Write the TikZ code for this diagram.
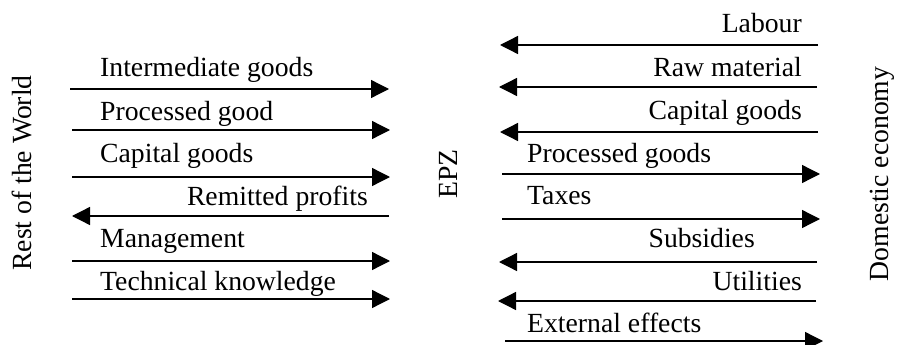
\documentclass[tikz,border=0pt]{standalone}
\usepackage{fontspec}
\setmainfont{Liberation Serif}
\usetikzlibrary{arrows.meta,positioning}
\tikzset{
  flow/.style={line width=1.3pt, -{Triangle[length=18pt,width=18pt]}},
  lbl/.style={inner sep=0pt, font=\fontsize{27.7}{32}\selectfont},
}
\begin{document}
\begin{tikzpicture}[x=1pt,y=-1pt]
	\useasboundingbox (0,0) rectangle (897,345);

	% The three sides
	\node[lbl, rotate=90] (world) at (22,173) {Rest of the World};
	\node[lbl, rotate=90] (epz) at (448,174) {EPZ};
	\node[lbl, rotate=90] (domestic) at (882,174) {Domestic economy};

	% Flows between rest of the world and EPZ
	\coordinate (lw1) at (70,89);  \coordinate (le1) at (389,89);
	\coordinate (lw2) at (72,130); \coordinate (le2) at (390,130);
	\coordinate (lw3) at (72,177); \coordinate (le3) at (390,177);
	\coordinate (lw4) at (72,216); \coordinate (le4) at (389,216);
	\coordinate (lw5) at (72,261); \coordinate (le5) at (390,261);
	\coordinate (lw6) at (72,299); \coordinate (le6) at (390,299);

	\draw[flow] (lw1) -- (le1);
	\draw[flow] (lw2) -- (le2);
	\draw[flow] (lw3) -- (le3);
	\draw[flow] (le4) -- (lw4);
	\draw[flow] (lw5) -- (le5);
	\draw[flow] (lw6) -- (le6);

	\node[lbl, anchor=base west] (intermediate) at (100,77) {Intermediate goods};
	\node[lbl, anchor=base west] (processed) at (100,120) {Processed good};
	\node[lbl, anchor=base west] (capitalw) at (100,162) {Capital goods};
	\node[lbl, anchor=base east] (remitted) at (368,205) {Remitted profits};
	\node[lbl, anchor=base west] (management) at (100,247) {Management};
	\node[lbl, anchor=base west] (technical) at (100,290) {Technical knowledge};

	% Flows between EPZ and domestic economy
	\coordinate (rw1) at (500,45);  \coordinate (re1) at (818,45);
	\coordinate (rw2) at (499,87);  \coordinate (re2) at (817,87);
	\coordinate (rw3) at (500,132); \coordinate (re3) at (818,132);
	\coordinate (rw4) at (502,174); \coordinate (re4) at (820,174);
	\coordinate (rw5) at (502,219); \coordinate (re5) at (820,219);
	\coordinate (rw6) at (499,262); \coordinate (re6) at (817,262);
	\coordinate (rw7) at (498,301); \coordinate (re7) at (816,301);
	\coordinate (rw8) at (505,341); \coordinate (re8) at (823,341);

	\draw[flow] (re1) -- (rw1);
	\draw[flow] (re2) -- (rw2);
	\draw[flow] (re3) -- (rw3);
	\draw[flow] (rw4) -- (re4);
	\draw[flow] (rw5) -- (re5);
	\draw[flow] (re6) -- (rw6);
	\draw[flow] (re7) -- (rw7);
	\draw[flow] (rw8) -- (re8);

	\node[lbl, anchor=base east] (labour) at (802,33) {Labour};
	\node[lbl, anchor=base east] (raw) at (802,77) {Raw material};
	\node[lbl, anchor=base east] (capitald) at (802,119) {Capital goods};
	\node[lbl, anchor=base west] (processeds) at (527,162) {Processed goods};
	\node[lbl, anchor=base west] (taxes) at (527,204) {Taxes};
	\node[lbl, anchor=base east] (subsidies) at (755,247) {Subsidies};
	\node[lbl, anchor=base east] (utilities) at (802,290) {Utilities};
	\node[lbl, anchor=base west] (external) at (527,332) {External effects};
\end{tikzpicture}
\end{document}
